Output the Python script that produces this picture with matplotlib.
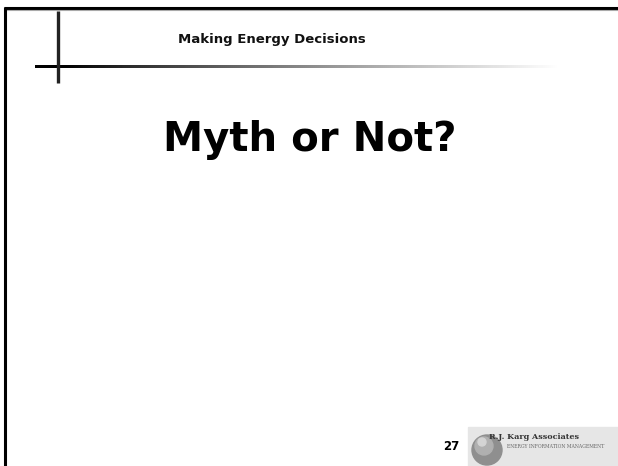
import numpy as np
import matplotlib.pyplot as plt
from matplotlib.patches import Rectangle, Circle

# slide texts
header = "Making Energy Decisions"
title = "Myth or Not?"
page_num = "27"
logo_name = "R.J. Karg Associates"
logo_sub = "ENERGY INFORMATION MANAGEMENT"

W, H = 618, 466
fig = plt.figure(figsize=(W / 100, H / 100), dpi=100)
ax = fig.add_axes([0, 0, 1, 1])
ax.set_xlim(0, W)
ax.set_ylim(H, 0)
ax.axis('off')

# frame: top and left border
ax.plot([4, W], [7.5, 7.5], color='black', lw=2.2, solid_capstyle='butt')
ax.plot([5, W], [9.5, 9.5], color='#aaaaaa', lw=0.8, solid_capstyle='butt')
ax.plot([5, 5], [7, H], color='black', lw=2.2, solid_capstyle='butt')

# cross mark with fading horizontal rule
ax.plot([57.5, 57.5], [11, 83], color='#222222', lw=2.4, solid_capstyle='butt')
grad = np.linspace(0, 1, 256) ** 0.8
grad = np.vstack([grad, grad])
ax.imshow(grad, cmap='gray', vmin=0.1, vmax=1.0, aspect='auto',
          extent=[35, 560, 68, 65], zorder=1)

ax.text(272, 40, header, ha='center', va='center', fontsize=9.5,
        fontweight='semibold', family='DejaVu Sans', color='#111111')
ax.text(310, 140, title, ha='center', va='center', fontsize=29,
        fontweight='bold', family='DejaVu Sans', color='black')

# footer: page number and logo
ax.text(451, 446, page_num, ha='center', va='center', fontsize=8.5,
        fontweight='heavy', family='DejaVu Sans', color='black')
ax.add_patch(Rectangle((468, 427), 150, 39, color='#e6e6e6', zorder=2))
ax.add_patch(Circle((487, 450), 15, color='#8f8f8f', zorder=3))
ax.add_patch(Circle((484, 446), 9, color='#b0b0b0', zorder=3))
ax.add_patch(Circle((482, 442), 4, color='#d4d4d4', zorder=3))
ax.text(489, 437, logo_name, ha='left', va='center', fontsize=5.8,
        fontweight='bold', family='DejaVu Serif', color='#333333', zorder=4)
ax.text(507, 446, logo_sub, ha='left', va='center', fontsize=3.3,
        family='DejaVu Serif', color='#666666', zorder=4)

fig.savefig('out.png', dpi=100)
